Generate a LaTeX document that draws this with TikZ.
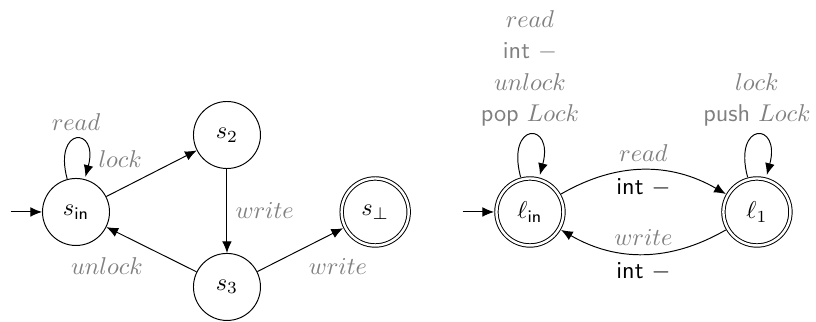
\documentclass[tikz,border=0pt]{standalone}
\usepackage{amsmath,amssymb}
\usepackage{tikz}
\usetikzlibrary{automata,positioning,arrows.meta}

\begin{document}
\begin{tikzpicture}[>={Latex[length=4.8pt,width=4pt]}, every state/.style={minimum size=0.97cm, inner sep=1pt},
    initial text={}, accepting/.append style={double distance=1pt, outer sep=1pt},
    act/.style={gray}]
    \useasboundingbox (-1.10,-1.592) rectangle (10.71,3.068);

    % Lock automaton
    \node[state,initial] (sin) at (0,0) {$s_{\mathsf{in}}$};
    \node[state] (s2) at (2.185,1.114) {$s_2$};
    \node[state] (s3) at (2.185,-1.085) {$s_3$};
    \node[state,accepting] (sbot) at (4.33,0) {$s_\bot$};

    \path[->] (sin) edge[loop above] node[act,above] {$read$} node[act,pos=0.85,right=1pt] {$lock$} ()
        (sin) edge (s2)
        (s2) edge node[act,right] {$write$} (s3)
        (s3) edge node[act,below left] {$unlock$} (sin)
        (s3) edge node[act,below right] {$write$} (sbot);

    % Stack automaton
    \begin{scope}[xshift=6.57cm]
        \node[state,initial,accepting] (lin) at (0,0) {$\ell_{\mathsf{in}}$};
        \node[state,accepting] (l1) at (3.285,0) {$\ell_1$};

        \path[->] (lin) edge[loop above] node[act,above,align=center]
                {$read$\\[1pt]\textsf{int} $-$\\[1pt]$unlock$\\[1pt]\textsf{pop} $Lock$} ()
            (l1) edge[loop above] node[act,above,align=center]
                {$lock$\\[1pt]\textsf{push} $Lock$} ()
            (lin) edge[bend left] node[act,above] {$read$} node[below] {\textsf{int} $-$} (l1)
            (l1) edge[bend left] node[act,above] {$write$} node[below] {\textsf{int} $-$} (lin);
    \end{scope}
\end{tikzpicture}
\end{document}
